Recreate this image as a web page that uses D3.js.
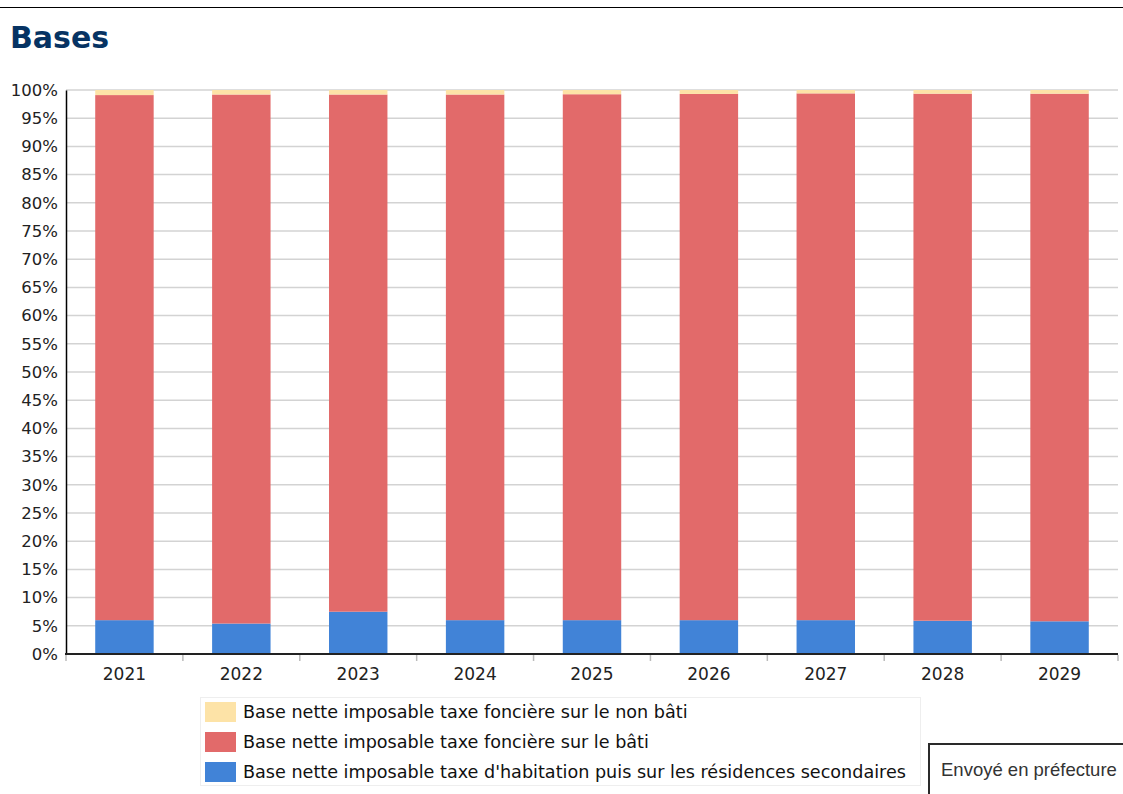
<!DOCTYPE html>
<html><head><meta charset="utf-8">
<script src="https://cdn.jsdelivr.net/npm/d3@7"></script>
<style>
body{margin:0;background:#fff;}
svg{display:block;}
</style></head>
<body>
<svg id="c" width="1123" height="794"></svg>
<script>
const years = ["2021","2022","2023","2024","2025","2026","2027","2028","2029"];
const nonBati = [0.9, 0.8, 0.8, 0.8, 0.75, 0.7, 0.6, 0.65, 0.65];
const habitation = [6.0, 5.4, 7.5, 6.0, 6.0, 6.0, 6.0, 5.9, 5.8];
const bati = years.map((_, i) => 100 - nonBati[i] - habitation[i]);
const seriesNames = [
  "Base nette imposable taxe foncière sur le non bâti",
  "Base nette imposable taxe foncière sur le bâti",
  "Base nette imposable taxe d'habitation puis sur les résidences secondaires"
];
const colors = ["#FDE3A7", "#E26A6A", "#4183D7"];
const yTicks = d3.range(0, 101, 5);

const svg = d3.select("#c");
const font = "DejaVu Sans, sans-serif";

svg.append("line").attr("x1",0).attr("x2",1123).attr("y1",7.5).attr("y2",7.5).attr("stroke","#000").attr("stroke-width",1);
svg.append("text").attr("x",10).attr("y",48).text("Bases")
  .attr("font-family",font).attr("font-weight","bold").attr("font-size",30).attr("fill","#063363");

const m = {l:66, r:1118, t:90, b:654};
const x = d3.scaleBand().domain(years).range([m.l, m.r]).paddingInner(0.5).paddingOuter(0.25);
const xb = d3.scaleBand().domain(years).range([m.l, m.r]);
const y = d3.scaleLinear().domain([0,100]).range([m.b, m.t]);

// grid
svg.append("g").selectAll("line").data(yTicks).join("line")
  .attr("x1",m.l).attr("x2",m.r).attr("y1",d=>y(d)).attr("y2",d=>y(d))
  .attr("stroke","#d3d3d3").attr("stroke-width",1.5);

// stacked data
const rows = years.map((yr,i)=>({year:yr, hab:habitation[i], bati:bati[i], nb:nonBati[i]}));
const stack = d3.stack().keys(["hab","bati","nb"])(rows);
const colorByKey = {hab:colors[2], bati:colors[1], nb:colors[0]};
svg.append("g").selectAll("g").data(stack).join("g")
  .attr("fill", d=>colorByKey[d.key])
  .selectAll("rect").data(d=>d).join("rect")
  .attr("x", d=>x(d.data.year)).attr("width", x.bandwidth())
  .attr("y", d=>y(d[1])).attr("height", d=>y(d[0])-y(d[1]));

// y axis
const ya = svg.append("g").attr("transform",`translate(${m.l},0)`)
  .call(d3.axisLeft(y).tickValues(yTicks).tickFormat(d=>d+"%").tickSize(0).tickPadding(8));
ya.select(".domain").attr("stroke","#000").attr("stroke-width",1.5);
ya.selectAll("text").attr("font-family",font).attr("font-size",16.5).attr("fill","#222");

// x axis
svg.append("line").attr("x1",m.l-1).attr("x2",m.r).attr("y1",m.b).attr("y2",m.b).attr("stroke","#222").attr("stroke-width",2);
svg.append("g").selectAll("line").data(years.map(d=>xb(d)).concat([m.r])).join("line")
  .attr("x1",d=>d).attr("x2",d=>d).attr("y1",m.b+1).attr("y2",m.b+7)
  .attr("stroke","#bbb").attr("stroke-width",1.5);
svg.append("g").selectAll("text").data(years).join("text")
  .attr("x",d=>x(d)+x.bandwidth()/2).attr("y",680).attr("text-anchor","middle")
  .attr("font-family",font).attr("font-size",17).attr("fill","#222").text(d=>d);

// legend
svg.append("rect").attr("x",200.5).attr("y",697.5).attr("width",720).attr("height",88)
  .attr("fill","#fff").attr("stroke","#eee");
const lg = svg.append("g").selectAll("g").data(seriesNames).join("g")
  .attr("transform",(d,i)=>`translate(205,${702+i*30})`);
lg.append("rect").attr("width",31).attr("height",20).attr("fill",(d,i)=>colors[i]);
lg.append("text").attr("x",38).attr("y",16).attr("font-family",font).attr("font-size",17.6)
  .attr("fill","#111").text(d=>d);

// stamp box
svg.append("rect").attr("x",929).attr("y",744).attr("width",220).attr("height",80)
  .attr("fill","#fff").attr("stroke","#2a2a2a").attr("stroke-width",2);
svg.append("text").attr("x",941).attr("y",776).attr("font-family","Liberation Sans, Arial, sans-serif")
  .attr("font-size",18.5).attr("fill","#333").text("Envoyé en préfecture");
</script>
</body></html>
